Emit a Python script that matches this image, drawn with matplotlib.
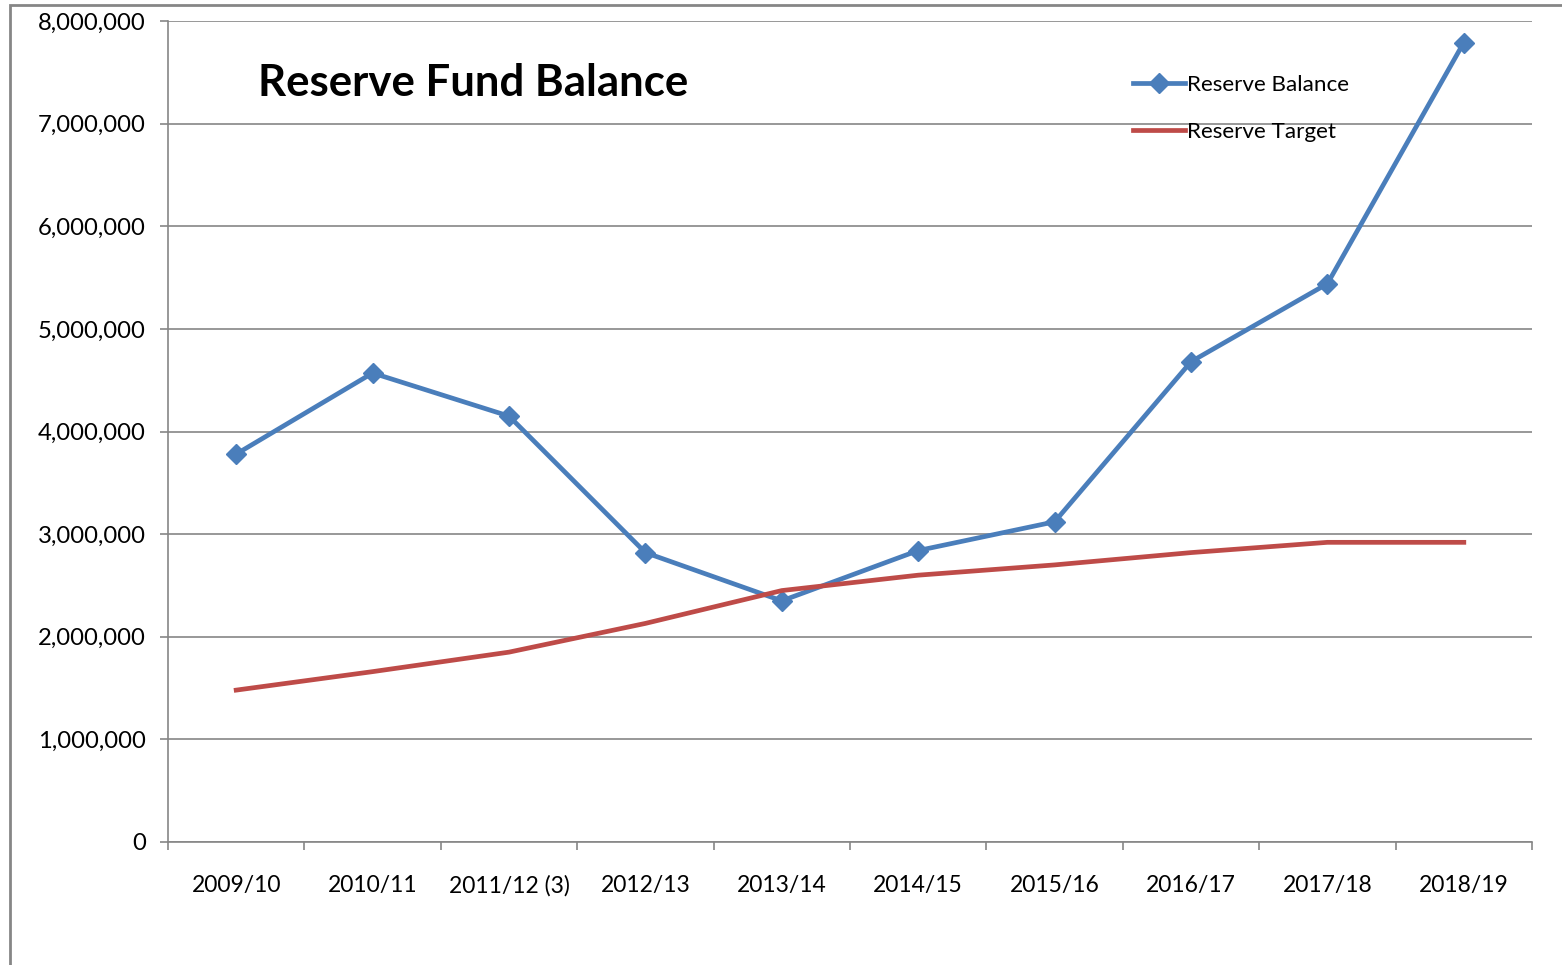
import numpy as np
import matplotlib.pyplot as plt
from matplotlib.ticker import FuncFormatter, FixedLocator
from matplotlib.patches import Rectangle

# Data
years = ['2009/10', '2010/11', '2011/12 (3)', '2012/13', '2013/14',
         '2014/15', '2015/16', '2016/17', '2017/18', '2018/19']
reserve_balance = [3780000, 4570000, 4150000, 2820000, 2350000,
                   2840000, 3120000, 4680000, 5440000, 7790000]
reserve_target = [1480000, 1660000, 1850000, 2130000, 2450000,
                  2600000, 2700000, 2820000, 2920000, 2920000]

plt.rcParams['font.family'] = ['Lato', 'DejaVu Sans']

fig = plt.figure(figsize=(15.62, 9.65), dpi=100)
ax = fig.add_axes([168/1562, 1-842/965, (1532-168)/1562, (842-21)/965])

grey = '#868686'
x = np.arange(len(years))

ax.plot(x, reserve_balance, color='#4A7EBB', lw=3.4, marker='D', ms=10.5,
        label='Reserve Balance', zorder=3)
ax.plot(x, reserve_target, color='#BE4B48', lw=3.4, label='Reserve Target', zorder=4)

ax.set_xlim(-0.5, len(years) - 0.5)
ax.set_ylim(0, 8000000)
ax.yaxis.set_major_locator(FixedLocator(np.arange(0, 8000001, 1000000)))
ax.yaxis.set_major_formatter(FuncFormatter(lambda v, p: f'{int(v):,}'))
ax.grid(axis='y', color=grey, lw=1.2)
ax.set_axisbelow(True)

# category ticks between labels, labels centred
ax.set_xticks(np.arange(-0.5, len(years)), minor=False)
ax.set_xticklabels([])
ax.set_xticks(x, minor=True)
ax.set_xticklabels(years, minor=True)
ax.tick_params(axis='x', which='major', length=6, color=grey, width=1.2, direction='out')
ax.tick_params(axis='x', which='minor', length=0, pad=24, labelsize=16.5)
ax.tick_params(axis='y', length=6, color=grey, width=1.2, labelsize=17.2, pad=10)

for s in ['top', 'right']:
    ax.spines[s].set_visible(False)
for s in ['left', 'bottom']:
    ax.spines[s].set_color(grey)
    ax.spines[s].set_linewidth(1.2)

ax.text(0.066, 0.924, 'Reserve Fund Balance', transform=ax.transAxes,
        fontsize=31.5, fontweight='bold', va='center', ha='left')

ax.legend(loc='upper left', bbox_to_anchor=(956/1364, 0.945), frameon=False,
          fontsize=16.2, handlelength=2.3, handletextpad=0.1, labelspacing=1.2,
          borderaxespad=0)

# outer chart frame (cropped)
fig.patches.append(Rectangle((10/1562, -0.1), 1.2, 1 - 5/965 + 0.1,
                             transform=fig.transFigure, fill=False,
                             edgecolor=grey, lw=2))

fig.savefig('out.png', dpi=100)
